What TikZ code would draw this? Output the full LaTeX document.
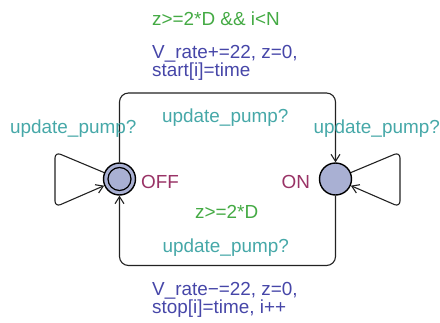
\documentclass[tikz,border=0pt]{standalone}
\usepackage{fontspec}
\setmainfont{Liberation Sans}
\usetikzlibrary{arrows.meta}
\definecolor{locfill}{HTML}{A9B0D3}
\definecolor{guardc}{HTML}{44AA44}
\definecolor{assignc}{HTML}{4646A8}
\definecolor{syncc}{HTML}{46A8A8}
\definecolor{namec}{HTML}{993366}
\definecolor{edgec}{HTML}{222222}
\tikzset{
  loc/.style={circle, draw=black, line width=1.4pt, fill=locfill, minimum size=32pt, inner sep=0pt},
  edge/.style={draw=edgec, line width=1.1pt, rounded corners=9pt, -{Straight Barb[length=7pt,width=9pt,line width=1.1pt]}},
  lbl/.style={anchor=base west, inner sep=0pt, font=\fontsize{18.9}{18}\selectfont, align=left},
  guard/.style={lbl, text=guardc},
  assign/.style={lbl, text=assignc},
  sync/.style={lbl, text=syncc},
  lname/.style={lbl, text=namec},
}
\begin{document}
\begin{tikzpicture}[x=1pt,y=-1pt]
\useasboundingbox (0,0) rectangle (440,322);
\node[loc] (off) at (119.5,179) {};
\draw[black, line width=1.2pt] (off.center) circle (11.5pt);
\node[loc] (on) at (335.5,179) {};
% corners
\coordinate (t1) at (119.5,93);
\coordinate (t2) at (335.5,93);
\coordinate (b1) at (119.5,265.5);
\coordinate (b2) at (335.5,265.5);
\coordinate (l1) at (55,152);
\coordinate (l2) at (55,207);
\coordinate (r1) at (400,152);
\coordinate (r2) at (400,207);
% edges
\draw[edge] (off) -- (t1) -- (t2) -- (on);
\draw[edge] (on) -- (b2) -- (b1) -- (off);
\draw[edge, rounded corners=6pt] (off) -- (l1) -- (l2) -- (off);
\draw[edge, rounded corners=6pt] (on) -- (r1) -- (r2) -- (on);
% labels
\node[lname] (offname) at (141,188) {OFF};
\node[lname] (onname) at (281.5,188) {ON};
\node[guard] (g1) at (152,25.5) {z>=2*D \&\& i<N};
\node[assign] (a1) at (152,76.5) {V\_rate+=22, z=0,\\start[i]=time};
\node[sync] (s1) at (162,122) {update\_pump?};
\node[sync] (sl) at (10,133) {update\_pump?};
\node[sync] (sr) at (313.5,133) {update\_pump?};
\node[guard] (g2) at (195,218) {z>=2*D};
\node[sync] (s2) at (162.5,252.5) {update\_pump?};
\node[assign] (a2) at (152,313) {V\_rate−=22, z=0,\\stop[i]=time, i++};
\end{tikzpicture}
\end{document}
